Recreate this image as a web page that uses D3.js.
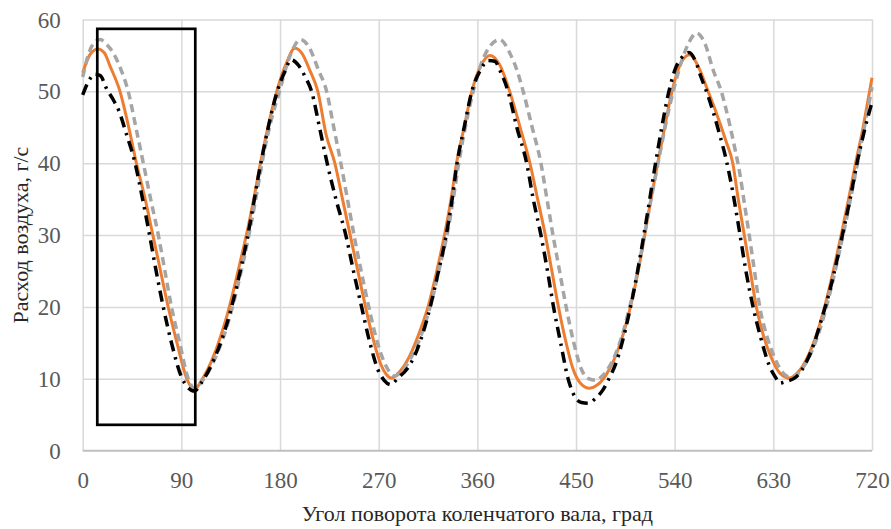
<!DOCTYPE html>
<html>
  <head>
    <meta charset="utf-8"/>
    <title>Расход воздуха</title>
    <style>
      body { margin: 0; background: #fff; }
      text { font-family: "Liberation Serif", "Times New Roman", serif; }
      .grid line { stroke: #d9d9d9; stroke-width: 1.5px; }
      .grid path { display: none; }
      .tick-labels path, .tick-labels line { display: none; }
      .tick-labels text { fill: #595959; font-size: 23px; }
      .title { fill: #262626; font-size: 22px; }
    </style>
    <script src="https://d3js.org/d3.v7.min.js"></script>
  </head>
  <body>
    <svg id="chart" width="891" height="529"></svg>
    <script>
      // tick labels
      var xTicks = [0, 90, 180, 270, 360, 450, 540, 630, 720];
      var yTicks = [0, 10, 20, 30, 40, 50, 60];

      // orange solid line
      var orangeAngle = [0, 7, 14, 20, 25, 34, 42, 49, 57, 64, 71, 78, 86, 95, 102, 108, 114, 120, 126, 132, 138, 144, 150, 156, 161.5, 167.5, 177, 186, 193.5, 200, 207, 214.5, 222, 230, 237, 244, 251, 258, 265, 272, 277, 281.8, 288, 297, 306, 315, 323, 330, 336, 341, 348, 355, 363, 371.5, 380, 389.5, 399, 408, 415, 422, 428, 434, 441, 447, 454, 462.5, 469, 475, 481, 487, 493, 499, 505, 511, 517, 523, 529, 535, 541, 547, 553.8, 562, 570.5, 578, 587, 593, 598, 603.5, 609, 614.5, 621, 628, 636, 645, 651, 657, 663, 669, 675, 681, 687, 693, 699, 705, 711, 716, 720];
      var orangeFlow  = [52.6, 55.2, 55.9, 55.3, 53.5, 50, 45, 40, 35, 30, 25, 20, 15, 10, 8.5, 9.7, 11.3, 13.4, 16, 19, 22.6, 26.5, 30.5, 35, 39.5, 44, 50, 54, 56, 55.3, 53, 50, 44, 40, 35, 30, 25, 20, 15.5, 12, 10.6, 10.1, 10.8, 12.8, 16, 20, 25, 30, 35, 40, 45, 50, 53.5, 55, 53.8, 50, 45, 40, 35, 30, 25, 20, 15, 11.5, 9.4, 8.7, 9.1, 10, 11.5, 13.5, 16.2, 19.6, 23.7, 28.5, 33.8, 38.8, 43.5, 48.2, 52, 54.3, 55.1, 53.3, 50, 47, 43, 40, 35, 30, 25, 20, 16, 13, 10.8, 10.1, 10.7, 11.8, 13.6, 16, 19, 22.6, 26.6, 30.8, 35.3, 40, 44.3, 48.5, 51.9];

      // grey dashed line
      var greyAngle = [0, 6, 12, 16, 22, 28, 35, 41.5, 48.5, 55.3, 62, 69, 75, 81, 88.5, 96.3, 102.5, 108, 114, 120, 126, 132, 138, 144, 150, 156, 161, 166, 172, 179.5, 188, 198.8, 207, 215, 222.5, 229, 235.5, 241.5, 247.5, 254, 261, 268, 276, 284.8, 292, 299, 306, 313, 319.5, 326, 333, 338.5, 343, 349, 356.2, 366, 380.5, 390, 396, 401.8, 410, 418, 423.5, 429, 435, 441, 448, 455, 462, 468.7, 474, 480, 486, 492, 498, 504, 510, 516, 522, 528, 534, 540, 547, 553, 559.9, 568, 575, 582.5, 590, 595, 599.5, 604, 608, 612.8, 617.6, 624, 631, 639, 646.4, 653, 659, 665, 671, 677, 683, 689, 695, 701, 707, 713, 720];
      var greyFlow  = [52.0, 55.5, 57.0, 57.2, 56.5, 55.3, 53, 50, 45, 40, 35, 30, 25, 20, 15, 10, 8.6, 9.5, 10.8, 12.6, 14.8, 17.5, 20.8, 24.6, 28.8, 33.5, 37.8, 42, 46, 50, 54.5, 57.2, 56, 53, 50, 45, 40, 35, 30, 25, 20, 15.5, 12, 10.4, 11.2, 12.8, 15, 18, 21.5, 25.8, 30.5, 35.5, 40, 45, 50, 54.8, 57.2, 55.2, 53, 50, 45, 40, 35, 30, 25, 20, 15, 11.3, 10, 9.8, 10.4, 11.6, 13.4, 16, 19.4, 23.3, 28, 33, 37.8, 42.5, 47, 50.8, 54.5, 56.8, 58.1, 56.5, 53, 50, 45.5, 42, 38.5, 34, 30, 25, 20, 16, 13, 10.8, 10.2, 10.8, 12, 13.8, 16.2, 19.2, 22.8, 26.8, 31, 35.5, 40.2, 45, 50.6];

      // black dash-dot line
      var blackAngle = [0, 5, 11, 16, 22, 28, 33, 40, 47, 54, 61, 67, 73.5, 81, 90, 96, 102, 108, 114, 120, 126, 132, 138, 144, 150, 155.5, 160, 164.5, 170, 177.5, 184.5, 190, 197, 203, 208.8, 216, 223, 231, 240, 247, 254.4, 262, 269.5, 275, 280.8, 288, 296, 303, 310, 317, 324, 331, 337, 341.5, 348, 355, 363, 370, 376, 381, 388, 396, 405, 411, 418, 424, 429.5, 436, 442.8, 449, 455, 461, 468, 474.7, 480, 486, 492, 498, 504, 510, 516, 522, 528, 534, 541, 547, 553, 559, 564, 569, 575, 581, 587, 593, 599, 605, 611.5, 618, 626.7, 632, 635.8, 641, 651, 660, 668, 675, 681, 687, 693, 700, 707, 713, 720];
      var blackFlow  = [49.5, 51.3, 52.4, 52.2, 50.3, 48.8, 47.3, 44, 40.5, 35.5, 30, 25, 20, 15, 10.3, 8.8, 8.3, 9.4, 10.9, 12.8, 15.1, 17.9, 21.3, 25.2, 29.5, 34, 38, 41.5, 45.5, 50, 52.8, 54.4, 53.6, 52, 50, 45, 40, 35, 30, 25, 20, 15, 11.2, 9.8, 9.2, 10.2, 11.4, 13.3, 16.2, 20, 24.6, 29.5, 35, 40, 45, 50, 53, 54.3, 54.2, 52.8, 50, 45, 40, 35, 30, 25, 20, 15, 10, 7.5, 6.7, 6.6, 7.3, 8.5, 10, 12, 15, 18.8, 23.2, 28.3, 33.8, 39.5, 44.8, 49.5, 53.3, 54.8, 55.4, 54.2, 52, 50, 47.2, 44, 40.5, 36, 30.6, 25, 20, 16, 11.7, 10.2, 9.4, 9.6, 10.3, 12.3, 15.3, 18.8, 22, 25.8, 30, 35, 40.5, 44.5, 48.5];

      // highlighted region
      var boxAngle = [13.3, 102.7];
      var boxFlow = [3.6, 58.7];

      var svg = d3.select("#chart");
      var plotL = 82.7, plotR = 872, plotT = 19.5, plotB = 450.7;

      var x = d3.scaleLinear().domain([0, 720]).range([plotL, plotR]);
      var y = d3.scaleLinear().domain([0, 60]).range([plotB, plotT]);

      // grid
      svg.append("g")
        .attr("class", "grid")
        .attr("transform", "translate(0," + plotB + ")")
        .call(d3.axisBottom(x).tickValues(xTicks).tickSize(-(plotB - plotT)).tickFormat(""));

      svg.append("g")
        .attr("class", "grid")
        .attr("transform", "translate(" + plotL + ",0)")
        .call(d3.axisLeft(y).tickValues(yTicks.slice(1)).tickSize(-(plotR - plotL)).tickFormat(""));

      // bottom axis line
      svg.append("line")
        .attr("x1", x(0)).attr("x2", x(720))
        .attr("y1", y(0)).attr("y2", y(0))
        .attr("stroke", "#bfbfbf")
        .attr("stroke-width", 2);

      // tick labels
      var xAxis = svg.append("g")
        .attr("class", "tick-labels")
        .attr("transform", "translate(0," + plotB + ")")
        .call(d3.axisBottom(x).tickValues(xTicks).tickSize(0));
      xAxis.selectAll("text").attr("y", 37).attr("dy", null);

      var yAxis = svg.append("g")
        .attr("class", "tick-labels")
        .attr("transform", "translate(" + plotL + ",0)")
        .call(d3.axisLeft(y).tickValues(yTicks).tickSize(0));
      yAxis.selectAll("text").attr("x", -22).attr("dy", "0.33em");

      // lines
      function pts(a, v) {
        return a.map(function(d, i) { return [d, v[i]]; });
      }

      var line = d3.line()
        .x(function(d) { return x(d[0]); })
        .y(function(d) { return y(d[1]); })
        .curve(d3.curveMonotoneX);

      svg.append("path")
        .datum(pts(orangeAngle, orangeFlow))
        .attr("d", line)
        .attr("fill", "none")
        .attr("stroke", "#ed7d31")
        .attr("stroke-width", 3);

      svg.append("path")
        .datum(pts(greyAngle, greyFlow))
        .attr("d", line)
        .attr("fill", "none")
        .attr("stroke", "#a5a5a5")
        .attr("stroke-width", 3.5)
        .attr("stroke-dasharray", "8,5");

      svg.append("path")
        .datum(pts(blackAngle, blackFlow))
        .attr("d", line)
        .attr("fill", "none")
        .attr("stroke", "#000")
        .attr("stroke-width", 3.5)
        .attr("stroke-dasharray", "11,6,2.5,6");

      // box
      svg.append("rect")
        .attr("x", x(boxAngle[0]))
        .attr("y", y(boxFlow[1]))
        .attr("width", x(boxAngle[1]) - x(boxAngle[0]))
        .attr("height", y(boxFlow[0]) - y(boxFlow[1]))
        .attr("fill", "none")
        .attr("stroke", "#000")
        .attr("stroke-width", 2.7);

      // axis titles
      svg.append("text")
        .attr("class", "title")
        .attr("x", (plotL + plotR) / 2)
        .attr("y", 521)
        .attr("text-anchor", "middle")
        .text("Угол поворота коленчатого вала, град");

      svg.append("text")
        .attr("class", "title")
        .attr("transform", "translate(28," + ((plotT + plotB) / 2) + ") rotate(-90)")
        .attr("text-anchor", "middle")
        .text("Расход воздуха, г/с");
    </script>
  </body>
</html>
